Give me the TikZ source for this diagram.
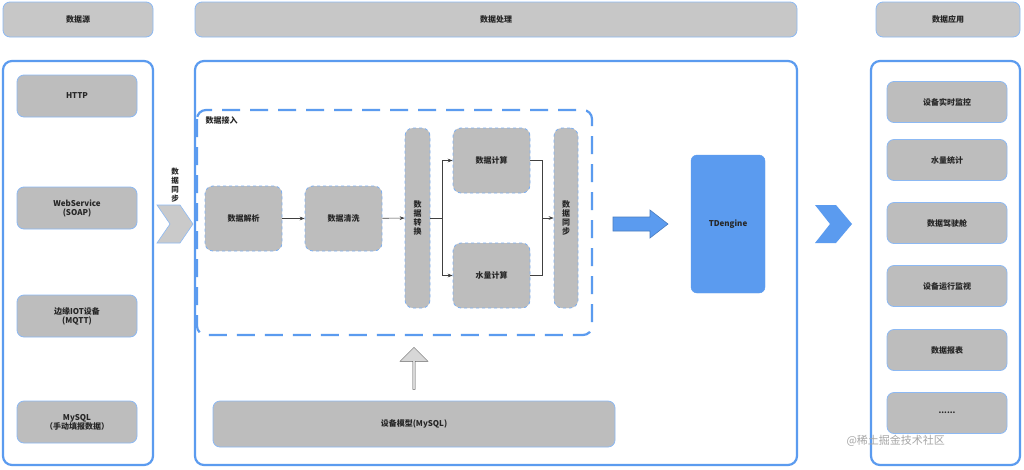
\documentclass[tikz,border=0pt]{standalone}
\usepackage{fontspec}
\setmainfont{Noto Sans CJK SC}
\usetikzlibrary{arrows.meta,shapes.arrows}
\definecolor{bb}{HTML}{5B9BEF}
\definecolor{gf}{HTML}{BDBDBD}
\begin{document}
\begin{tikzpicture}[x=1pt,y=-1pt,
 lbl/.style={font=\fontsize{8}{9}\selectfont\bfseries,align=center,text=black!85},
 hdr/.style={draw=bb!70,fill=gf!85,rounded corners=7pt,line width=0.8pt,lbl},
 item/.style={draw=bb!70,fill=gf,rounded corners=7pt,line width=0.8pt,lbl},
 ditem/.style={draw=bb!80,dashed,fill=gf,rounded corners=8pt,line width=0.8pt,lbl},
 panel/.style={draw=bb,line width=2.2pt,rounded corners=9pt},
 ar/.style={-{Stealth[length=5pt]},draw=black!75,line width=0.6pt}]
\useasboundingbox (0,0) rectangle (1024,469);
\fill[white] (0,0) rectangle (1024,469);
% headers
\node[hdr,minimum width=150,minimum height=35] (h1) at (78,19.5) {数据源};
\node[hdr,minimum width=602,minimum height=35] (h2) at (496,19.5) {数据处理};
\node[hdr,minimum width=144,minimum height=35] (h3) at (948,19.5) {数据应用};
% panels
\draw[panel] (3,61) rectangle (153,465);
\draw[panel] (195,61) rectangle (797,465);
\draw[panel] (871,61) rectangle (1020,465);
% sources
\node[item,minimum width=120,minimum height=42] (s1) at (77,96) {HTTP};
\node[item,minimum width=120,minimum height=42] (s2) at (77,208) {WebService\\(SOAP)};
\node[item,minimum width=120,minimum height=42] (s3) at (77,316) {边缘IOT设备\\(MQTT)};
\node[item,minimum width=120,minimum height=42] (s4) at (77,422) {MySQL\\（手动填报数据）};
% chevron
\draw[bb!70,fill=gf!80,line width=0.6pt] (157,205) -- (180,205) -- (193,224) -- (180,243) -- (157,243) -- (170,224) -- cycle;
\node[lbl,align=center,font=\fontsize{7.5}{9}\selectfont\bfseries] (sync1) at (175,185) {数\\据\\同\\步};
% dashed box
\draw[bb,line width=2.2pt,dash pattern=on 18pt off 10pt,rounded corners=9pt] (197,110) rectangle (592,335);
\node[lbl,anchor=west] (jr) at (202,120) {数据接入};
\node[ditem,minimum width=77,minimum height=65] (p1) at (243.5,218.5) {数据解析};
\node[ditem,minimum width=77,minimum height=65] (p2) at (343.5,218.5) {数据清洗};
\node[ditem,minimum width=25,minimum height=180] (p3) at (417.5,218) {数\\据\\转\\换};
\node[ditem,minimum width=77,minimum height=65] (p4) at (491.5,160.5) {数据计算};
\node[ditem,minimum width=77,minimum height=65] (p5) at (491.5,275.5) {水量计算};
\node[ditem,minimum width=24,minimum height=180] (p6) at (566,218) {数\\据\\同\\步};
\draw[ar] (p1) -- (p2);
\draw[ar] (p2) -- (p3);
\coordinate (sp) at (442,218);
\coordinate (jn) at (542,218);
\draw[ar] (p3.east) -- (sp) |- (p4.west);
\draw[ar] (sp) |- (p5.west);
\draw[black!75,line width=0.6pt] (p4.east) -| (jn);
\draw[black!75,line width=0.6pt] (p5.east) -| (jn);
\draw[ar] (jn) -- (p6.west);
% blue arrow
\draw[bb!80!black,fill=bb,line width=0.6pt] (613,217) -- (650,217) -- (650,210) -- (668,224) -- (650,238) -- (650,231) -- (613,231) -- cycle;
\node[draw=bb,fill=bb,rounded corners=6pt,minimum width=74,minimum height=138,lbl] (td) at (728,224) {TDengine};
% up arrow
\node[single arrow,draw=black!60,fill=gf!60,shape border rotate=90,minimum height=42,minimum width=28,single arrow head extend=2pt,inner sep=0pt] (ua) at (414,369) {};
\node[item,minimum width=402,minimum height=46] (dm) at (414,424) {设备模型(MySQL)};
% right chevron
\fill[bb] (815,205) -- (836,205) -- (852,224) -- (836,243) -- (815,243) -- (830,224) -- cycle;
% apps
\node[item,minimum width=120,minimum height=41] (a1) at (947,102) {设备实时监控};
\node[item,minimum width=120,minimum height=41] (a2) at (947,160) {水量统计};
\node[item,minimum width=120,minimum height=41] (a3) at (947,223) {数据驾驶舱};
\node[item,minimum width=120,minimum height=41] (a4) at (947,286) {设备运行监视};
\node[item,minimum width=120,minimum height=41] (a5) at (947,350) {数据报表};
\node[item,minimum width=120,minimum height=41] (a6) at (947,413) {......};
\node[text=black!35,font=\fontsize{11}{12}\selectfont,anchor=west] (wm) at (843,441) {@稀土掘金技术社区};
\end{tikzpicture}
\end{document}
